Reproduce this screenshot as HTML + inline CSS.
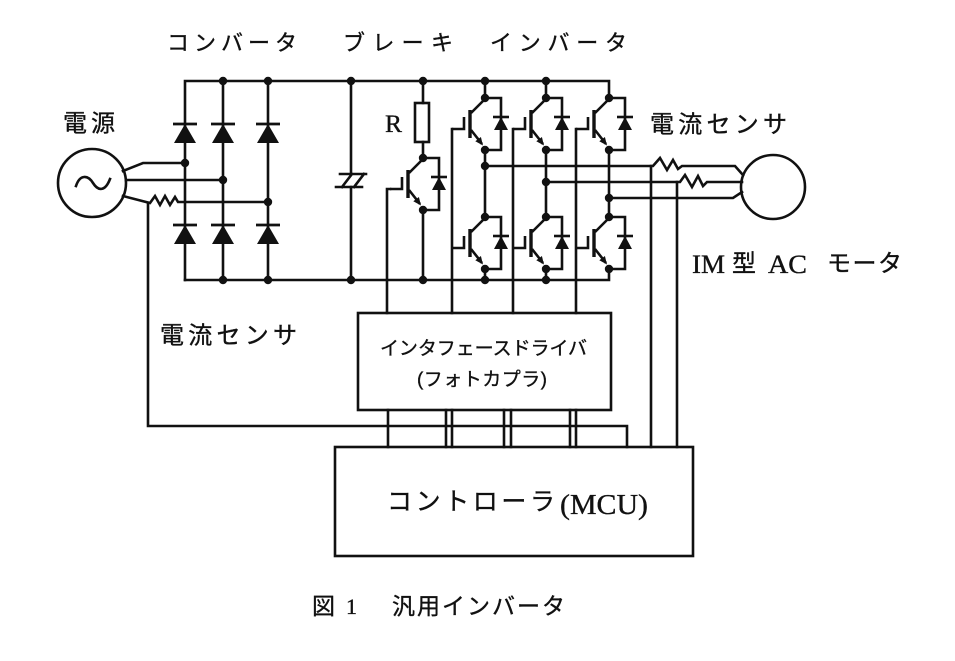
<!DOCTYPE html>
<html>
<head>
<meta charset="utf-8">
<style>
  html,body{margin:0;padding:0;background:#fff;}
  svg{display:block;}
  .w{fill:none;stroke:#111;stroke-width:2.6;stroke-linecap:square;}
  .jp{font-family:"Liberation Sans","Noto Sans CJK JP",sans-serif;fill:#111;stroke:#111;stroke-width:0.35;dominant-baseline:central;}
  .lt{font-family:"Liberation Serif","Noto Serif CJK SC",serif;fill:#111;stroke:#111;stroke-width:0.35;}
</style>
</head>
<body>
<svg width="955" height="661" viewBox="0 0 955 661" xmlns="http://www.w3.org/2000/svg">
  <defs>
    <g id="igbt">
      <path d="M-1,2 L-14,15 M-14,32 L-3,46 M-21,19 V31 H-33 M0,0 H16 V52 H0" fill="none" stroke="#111" stroke-width="2.6"/>
      <line x1="-15" y1="12" x2="-15" y2="40" stroke="#111" stroke-width="3.4"/>
      <polygon points="-2,47.5 -4.1,39 -9.7,43.2" fill="#111"/>
      <line x1="8" y1="19" x2="24" y2="19" stroke="#111" stroke-width="2.6"/>
      <polygon points="16,19 9,32 23,32" fill="#111"/>
      <circle cx="0" cy="0" r="4.2" fill="#111"/>
      <circle cx="0" cy="52" r="4.2" fill="#111"/>
    </g>
    <g id="dio">
      <line x1="-12" y1="0" x2="12" y2="0" stroke="#111" stroke-width="2.8"/>
      <polygon points="0,0 -11,19 11,19" fill="#111"/>
    </g>
  </defs>

  <!-- Top labels -->
  <text class="jp" x="167" y="43" font-size="22" textLength="130" lengthAdjust="spacing">コンバータ</text>
  <text class="jp" x="343" y="43" font-size="22" textLength="110" lengthAdjust="spacing">ブレーキ</text>
  <text class="jp" x="490" y="43" font-size="22" textLength="137" lengthAdjust="spacing">インバータ</text>

  <!-- Source -->
  <text class="jp" x="63" y="124" font-size="24" textLength="52" lengthAdjust="spacing">電源</text>
  <circle cx="92" cy="183" r="34" class="w" stroke-width="2.8"/>
  <path d="M76,186 C80,174 88,175 93,183 S105,192 110,179" class="w"/>

  <!-- Rails -->
  <path d="M185,280 V81 H609 V98" class="w" stroke-width="2.8"/>
  <path d="M185,280 H609 V269" class="w" stroke-width="2.8"/>

  <!-- Converter columns -->
  <path d="M223,81 V280 M268,81 V280" class="w"/>
  <use href="#dio" x="185" y="124"/>
  <use href="#dio" x="223" y="124"/>
  <use href="#dio" x="268" y="124"/>
  <use href="#dio" x="185" y="225"/>
  <use href="#dio" x="223" y="225"/>
  <use href="#dio" x="268" y="225"/>

  <!-- Source lines -->
  <path d="M123,171 L143,163 H185" class="w"/>
  <path d="M126,180 H223" class="w"/>
  <path d="M123,196 L150,203 L155,196 L160,205 L165,196 L170,205 L175,197 L178,202 H268" class="w"/>
  <!-- input current sensor wire -->
  <path d="M148,203 V426 H627 V447" class="w"/>

  <!-- Capacitor -->
  <path d="M351,81 V174 M351,187 V280" class="w"/>
  <path d="M340,174 H366 M336,187 H362 M352,174 L342,187 M364,174 L354,187" class="w" stroke-width="2.8"/>

  <!-- Brake -->
  <path d="M423,81 V103 M423,142 V158 M423,210 V280" class="w"/>
  <rect x="415" y="103" width="14" height="39" class="w"/>
  <text class="lt" x="385" y="132" font-size="25" textLength="17" lengthAdjust="spacingAndGlyphs">R</text>
  <use href="#igbt" x="423" y="158"/>
  <path d="M390,189 H387 V313" class="w"/>

  <!-- Inverter legs -->
  <path d="M485,81 V98 M485,150 V217 M485,269 V280" class="w"/>
  <path d="M546,81 V98 M546,150 V217 M546,269 V280" class="w"/>
  <path d="M609,150 V217" class="w"/>
  <use href="#igbt" x="485" y="98"/>
  <use href="#igbt" x="546" y="98"/>
  <use href="#igbt" x="609" y="98"/>
  <use href="#igbt" x="485" y="217"/>
  <use href="#igbt" x="546" y="217"/>
  <use href="#igbt" x="609" y="217"/>
  <!-- gate wires -->
  <path d="M452,129 V313 M513,129 V313 M576,129 V313" class="w"/>

  <!-- Output lines -->
  <path d="M485,166 H653 L660,158 L667,170 L673,160 L678,169 L682,166 H735 L743,175" class="w"/>
  <path d="M546,182 H680 L685,175 L692,187 L698,176 L703,186 L707,182 H742" class="w"/>
  <path d="M609,198 H733 L742,192" class="w"/>
  <!-- motor current sensor wires -->
  <path d="M651,166 V447 M677,182 V447" class="w"/>

  <!-- Motor -->
  <circle cx="773" cy="187" r="32" class="w" stroke-width="2.8"/>
  <text class="jp" x="650" y="125" font-size="24" textLength="137" lengthAdjust="spacing">電流センサ</text>
  <text class="lt" x="692" y="273" font-size="26" textLength="33" lengthAdjust="spacingAndGlyphs">IM</text>
  <text class="jp" x="732" y="264" font-size="24">型</text>
  <text class="lt" x="768" y="273" font-size="26" textLength="39" lengthAdjust="spacingAndGlyphs">AC</text>
  <text class="jp" x="827" y="264" font-size="24" textLength="75" lengthAdjust="spacing">モータ</text>

  <!-- Dots -->
  <g fill="#111">
    <circle cx="223" cy="81" r="4.2"/><circle cx="268" cy="81" r="4.2"/>
    <circle cx="351" cy="81" r="4.2"/><circle cx="423" cy="81" r="4.2"/>
    <circle cx="485" cy="81" r="4.2"/><circle cx="546" cy="81" r="4.2"/>
    <circle cx="185" cy="163" r="4.2"/><circle cx="223" cy="180" r="4.2"/>
    <circle cx="268" cy="202" r="4.2"/>
    <circle cx="223" cy="280" r="4.2"/><circle cx="268" cy="280" r="4.2"/>
    <circle cx="351" cy="280" r="4.2"/><circle cx="423" cy="280" r="4.2"/>
    <circle cx="485" cy="280" r="4.2"/><circle cx="546" cy="280" r="4.2"/>
    <circle cx="485" cy="166" r="4.2"/><circle cx="546" cy="182" r="4.2"/>
    <circle cx="609" cy="198" r="4.2"/>
  </g>

  <!-- Left current sensor label -->
  <text class="jp" x="160" y="336" font-size="24" textLength="137" lengthAdjust="spacing">電流センサ</text>

  <!-- Interface driver -->
  <rect x="358" y="313" width="253" height="97" class="w" stroke-width="3"/>
  <text class="jp" x="380" y="349" font-size="19" textLength="207" lengthAdjust="spacing">インタフェースドライバ</text>
  <text class="jp" x="417" y="380" font-size="19" textLength="130" lengthAdjust="spacing">(フォトカプラ)</text>

  <!-- Signal lines between boxes -->
  <path d="M388,410 V447 M446,410 V447 M452,410 V447 M504,410 V447 M511,410 V447 M570,410 V447 M576,410 V447" class="w"/>

  <!-- Controller -->
  <rect x="335" y="447" width="358" height="109" class="w" stroke-width="3"/>
  <text class="jp" x="387" y="502" font-size="25" textLength="168" lengthAdjust="spacing">コントローラ</text>
  <text class="lt" x="560" y="514" font-size="29" textLength="88" lengthAdjust="spacingAndGlyphs">(MCU)</text>

  <!-- Caption -->
  <text class="jp" x="312" y="606" font-size="23">図</text>
  <text class="lt" x="346" y="614" font-size="22">1</text>
  <text class="jp" x="392" y="606" font-size="23" textLength="173" lengthAdjust="spacing">汎用インバータ</text>
</svg>
</body>
</html>
